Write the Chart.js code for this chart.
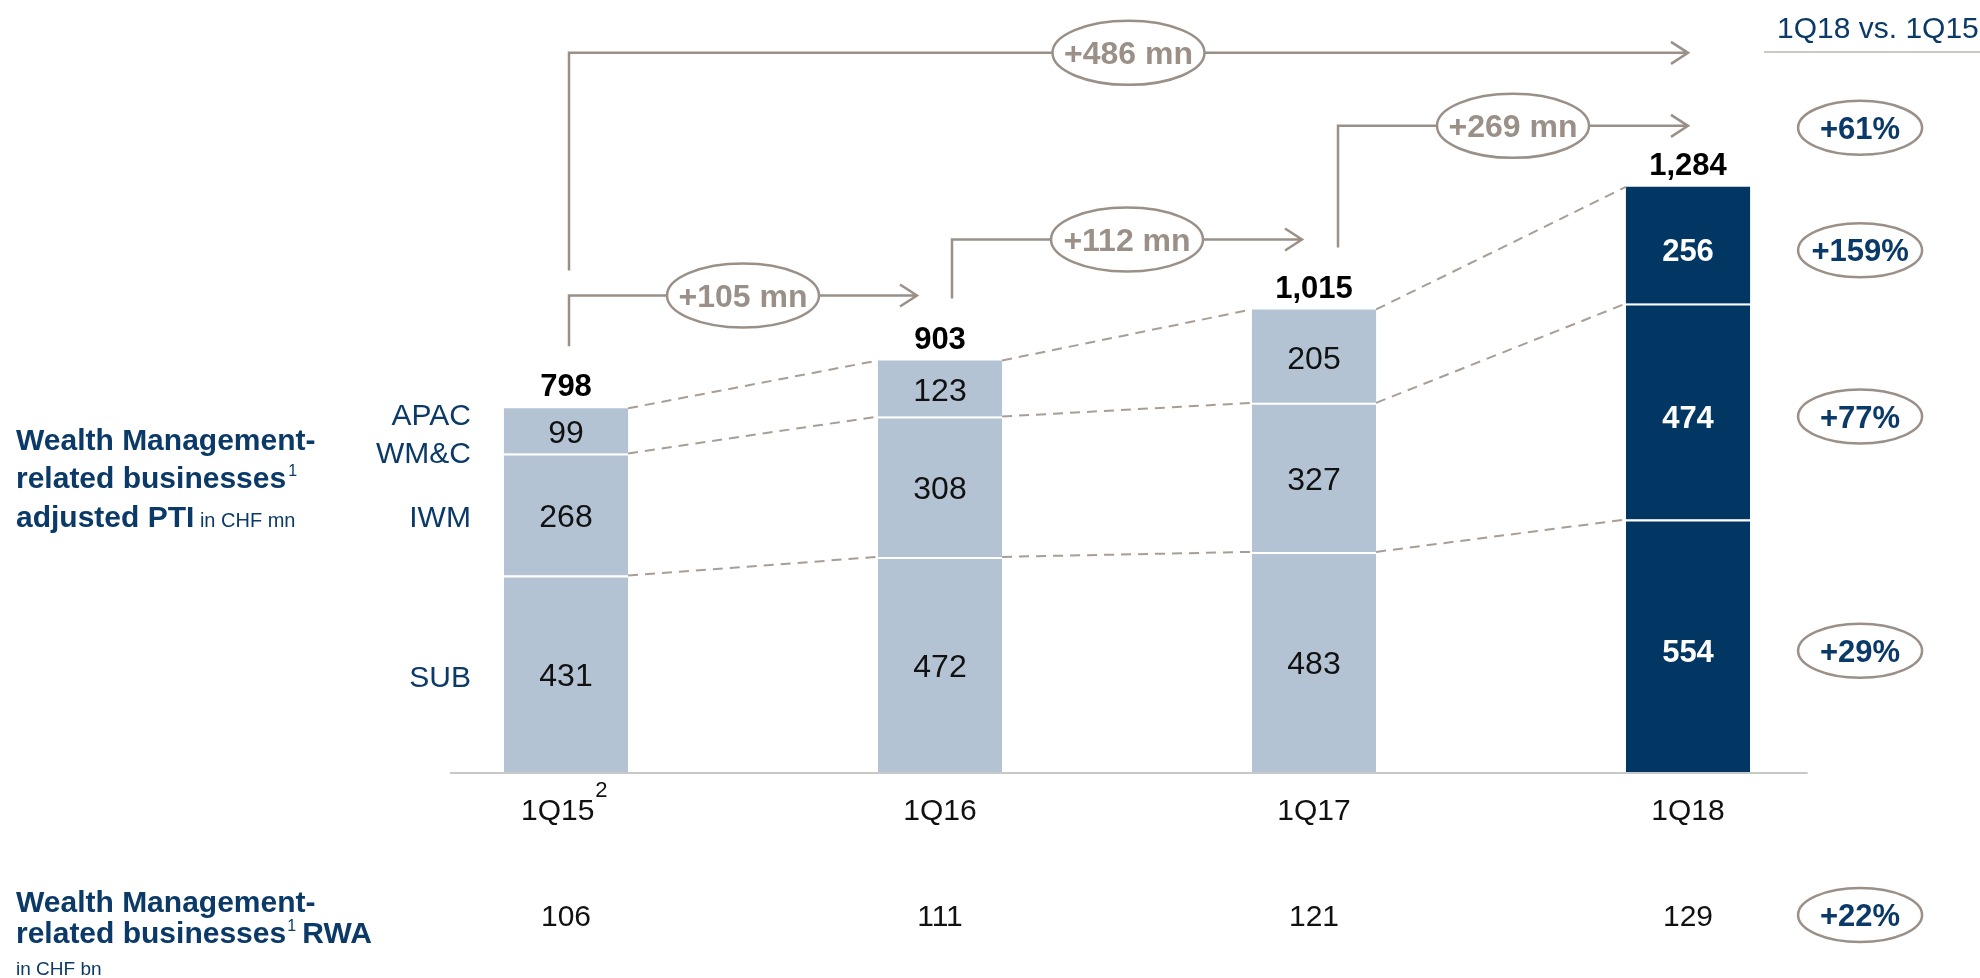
<!DOCTYPE html>
<html>
<head>
<meta charset="utf-8">
<script src="https://cdn.jsdelivr.net/npm/chart.js@4.4.1/dist/chart.umd.min.js"></script>
<style>
  html, body { margin: 0; padding: 0; background: #fff; }
  #wrap { width: 1980px; height: 978px; }
</style>
</head>
<body>
<div id="wrap"><canvas id="myChart" width="1980" height="978"></canvas></div>
<script>
// values
let quarters = ['1Q15', '1Q16', '1Q17', '1Q18'];
let quarterNotes = ['2', '', '', ''];
let sub = [431, 472, 483, 554];
let iwm = [268, 308, 327, 474];
let apac = [99, 123, 205, 256];
let rwa = [106, 111, 121, 129];
let segmentNames = [['SUB'], ['IWM'], ['APAC', 'WM&C']];
let steps = [[0, 1], [1, 2], [2, 3], [0, 3]];

let FONT = '"Liberation Sans", Arial, Helvetica, sans-serif';
let navy = '#0b3a68';
let darkBar = '#033763';
let lightBar = '#b3c3d3';
let taupe = '#9b9088';

Chart.defaults.font.family = FONT;

let totals = quarters.map((q, i) => sub[i] + iwm[i] + apac[i]);
let barColors = quarters.map((q, i) => i == quarters.length - 1 ? darkBar : lightBar);

let txt = (ctx, s, x, yMid, size, weight, color, align) => {
    ctx.font = (weight || 'normal') + ' ' + size + 'px ' + FONT;
    ctx.fillStyle = color;
    ctx.textAlign = align || 'center';
    ctx.textBaseline = 'alphabetic';
    ctx.fillText(s, x, yMid + size * 0.36);
};

// runs of text on one baseline, used for the titles with footnote marks
let runs = (ctx, parts, x, base, color) => {
    ctx.fillStyle = color;
    ctx.textAlign = 'left';
    ctx.textBaseline = 'alphabetic';
    for (let p of parts) {
        ctx.font = p.f + ' ' + FONT;
        ctx.fillText(p.t, x, base + (p.dy || 0));
        x += ctx.measureText(p.t).width + (p.gap || 0);
    }
};

let ellipse = (ctx, cx, cy, rx, ry, label, color, size) => {
    ctx.beginPath();
    ctx.ellipse(cx, cy, rx, ry, 0, 0, Math.PI * 2);
    ctx.fillStyle = '#fff';
    ctx.fill();
    ctx.lineWidth = 2.5;
    ctx.strokeStyle = taupe;
    ctx.stroke();
    txt(ctx, label, cx, cy, size, 'bold', color);
};

let pct = (a, b) => '+' + Math.round((b / a - 1) * 100) + '%';

let annotations = {
    id: 'annotations',
    afterDatasetsDraw(chart) {
        let ctx = chart.ctx;
        let x = chart.scales.x, y = chart.scales.y;
        let metas = [0, 1, 2].map(d => chart.getDatasetMeta(d).data.map(b => b.getProps(['x', 'y', 'base', 'width'], true)));
        let base = y.getPixelForValue(0);
        let last = quarters.length - 1;
        ctx.save();

        // axis line
        ctx.beginPath();
        ctx.moveTo(x.getPixelForValue(-0.31), base + 1);
        ctx.lineTo(x.getPixelForValue(3.32), base + 1);
        ctx.lineWidth = 2;
        ctx.strokeStyle = '#c8c8c8';
        ctx.stroke();

        // footnote mark next to a quarter label
        quarters.forEach((q, i) => {
            if (!quarterNotes[i]) return;
            ctx.font = '30px ' + FONT;
            let full = ctx.measureText(q + '  ').width;
            let w = ctx.measureText(q).width;
            let px = x.getPixelForValue(i) - full / 2 + w + 1;
            ctx.font = '22px ' + FONT;
            ctx.fillStyle = '#111';
            ctx.textAlign = 'left';
            ctx.textBaseline = 'alphabetic';
            ctx.fillText(quarterNotes[i], px, base + 25);
        });

        // dashed connectors between segment tops
        ctx.setLineDash([10, 7]);
        ctx.lineWidth = 2;
        ctx.strokeStyle = '#a89e96';
        for (let d = 0; d < 3; d++) {
            for (let i = 0; i < last; i++) {
                let a = metas[d][i], b = metas[d][i + 1];
                ctx.beginPath();
                ctx.moveTo(a.x + a.width / 2, a.y);
                ctx.lineTo(b.x - b.width / 2, b.y);
                ctx.stroke();
            }
        }
        ctx.setLineDash([]);

        // values inside segments
        for (let d = 0; d < 3; d++) {
            let vals = [sub, iwm, apac][d];
            for (let i = 0; i <= last; i++) {
                let b = metas[d][i];
                let dark = i == last;
                txt(ctx, String(vals[i]), b.x, (b.y + b.base) / 2 + (dark ? 5 : 1), dark ? 31 : 32, dark ? 'bold' : 'normal', dark ? '#fff' : '#111');
            }
        }

        // totals
        for (let i = 0; i <= last; i++) {
            let b = metas[2][i];
            txt(ctx, totals[i].toLocaleString('en-US'), b.x, b.y - 23, 31, 'bold', '#000');
        }

        // segment names on the left of the first bar
        for (let d = 0; d < 3; d++) {
            let b = metas[d][0];
            let mid = (b.y + b.base) / 2 + 2;
            let names = segmentNames[d];
            names.forEach((n, k) => {
                txt(ctx, n, b.x - b.width / 2 - 33, mid + (k - (names.length - 1) / 2) * 38, 30, 'normal', navy, 'right');
            });
        }

        // RWA row
        let rwaY = 915;
        for (let i = 0; i <= last; i++) {
            txt(ctx, String(rwa[i]), x.getPixelForValue(i), rwaY, 30, 'normal', '#111');
        }

        // brackets with arrows
        let shifts = [[3, -23], [12, -12], [24, 0], [3, 0]];
        let lift = [65, 70, 61];
        let levels = [];
        let bottoms = [];
        steps.forEach((s, k) => {
            if (s[1] - s[0] == 1) {
                levels[k] = y.getPixelForValue(totals[s[1]]) - lift[k];
                bottoms[k] = y.getPixelForValue(totals[s[0]]) - 62;
            }
        });
        steps.forEach((s, k) => {
            if (s[1] - s[0] != 1) {
                levels[k] = Math.min(...levels.filter(v => v !== undefined)) - 73;
                bottoms[k] = levels[0] - 25;
            }
        });
        ctx.lineWidth = 2.5;
        ctx.strokeStyle = taupe;
        steps.forEach((s, k) => {
            let x0 = x.getPixelForValue(s[0]) + shifts[k][0];
            let x1 = x.getPixelForValue(s[1]) + shifts[k][1];
            let ly = levels[k];
            ctx.lineWidth = 2.5;
            ctx.strokeStyle = taupe;
            ctx.beginPath();
            ctx.moveTo(x0, bottoms[k]);
            ctx.lineTo(x0, ly);
            ctx.lineTo(x1, ly);
            ctx.moveTo(x1 - 17, ly - 11);
            ctx.lineTo(x1, ly);
            ctx.lineTo(x1 - 17, ly + 11);
            ctx.stroke();
            ellipse(ctx, (x0 + x1) / 2, ly, 76, 32, '+' + (totals[s[1]] - totals[s[0]]) + ' mn', taupe, 32);
        });

        // right column: 1Q18 vs. 1Q15
        let bl = metas[0][last];
        let cx = bl.x + bl.width / 2 + 110;
        txt(ctx, quarters[last] + ' vs. ' + quarters[0], 1777, 27, 30, 'normal', navy, 'left');
        ctx.beginPath();
        ctx.moveTo(1764, 52);
        ctx.lineTo(1980, 52);
        ctx.lineWidth = 2;
        ctx.strokeStyle = '#cdc8c3';
        ctx.stroke();
        ellipse(ctx, cx, levels[2] + 2, 62, 27, pct(totals[0], totals[last]), navy, 31);
        [apac, iwm, sub].forEach((vals, k) => {
            let b = metas[2 - k][last];
            ellipse(ctx, cx, (b.y + b.base) / 2 + 5, 62, 27, pct(vals[0], vals[last]), navy, 31);
        });
        ellipse(ctx, cx, rwaY, 62, 27, pct(rwa[0], rwa[last]), navy, 31);

        // titles on the left
        runs(ctx, [{t: 'Wealth Management-', f: 'bold 30px'}], 16, 450, navy);
        runs(ctx, [{t: 'related businesses', f: 'bold 30px', gap: 2}, {t: '1', f: '16px', dy: -12}], 16, 488, navy);
        runs(ctx, [{t: 'adjusted PTI', f: 'bold 30px'}, {t: ' in CHF mn', f: '20px'}], 16, 527, navy);

        runs(ctx, [{t: 'Wealth Management-', f: 'bold 30px'}], 16, 912, navy);
        runs(ctx, [{t: 'related businesses', f: 'bold 30px', gap: 1}, {t: '1', f: '16px', dy: -12, gap: -2}, {t: ' RWA', f: 'bold 30px'}], 16, 943, navy);
        runs(ctx, [{t: 'in CHF bn', f: '19px'}], 16, 975, navy);

        ctx.restore();
    }
};

let segDataset = (label, data, top) => ({
    label: label,
    data: data,
    backgroundColor: barColors,
    borderColor: '#fff',
    borderWidth: top ? 0 : {top: 2, right: 0, bottom: 0, left: 0},
    borderSkipped: false,
    barPercentage: 1,
    categoryPercentage: 0.332
});

new Chart('myChart', {
    type: 'bar',
    data: {
        labels: quarters,
        datasets: [
            segDataset('SUB', sub, false),
            segDataset('IWM', iwm, false),
            segDataset('APAC WM&C', apac, true)
        ]
    },
    options: {
        responsive: false,
        animation: false,
        layout: {padding: {left: 379, right: 105, top: 0, bottom: 0}},
        plugins: {legend: {display: false}, tooltip: {enabled: false}},
        scales: {
            x: {
                stacked: true,
                grid: {display: false},
                border: {display: false},
                ticks: {
                    color: '#111',
                    font: {size: 30},
                    padding: 14,
                    // room is left after the label for its footnote mark
                    callback: (v, i) => quarters[i] + (quarterNotes[i] ? '  ' : '')
                },
                afterFit: (scale) => { scale.height = 206; }
            },
            y: {stacked: true, display: false, min: 0, max: 1694}
        }
    },
    plugins: [annotations]
});
</script>
</body>
</html>
